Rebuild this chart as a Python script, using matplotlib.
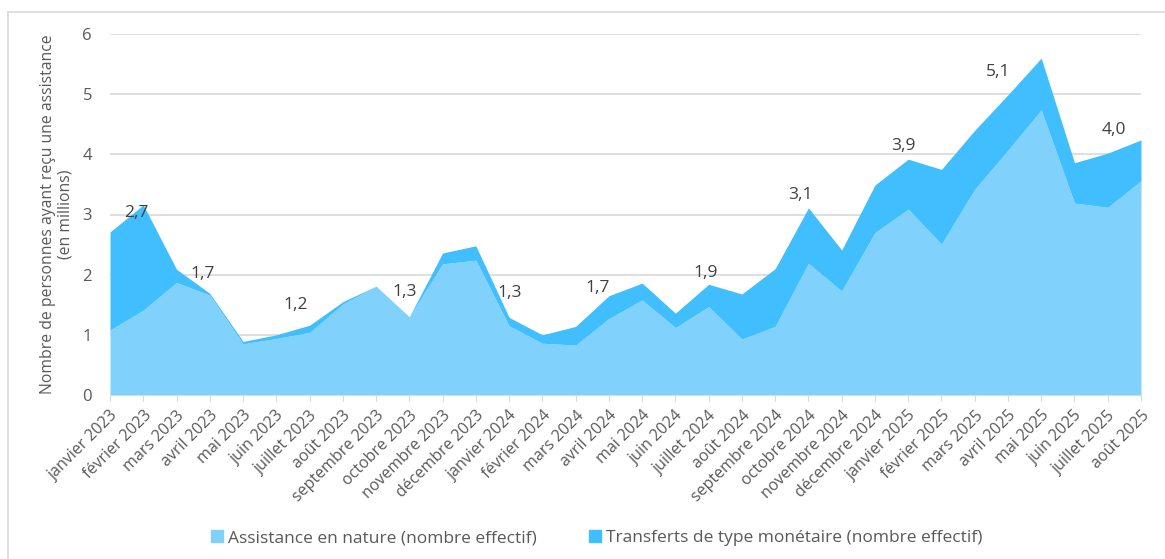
import matplotlib
matplotlib.use("Agg")
from matplotlib import pyplot as plt
from matplotlib.lines import Line2D
from matplotlib.patches import Patch

plt.rcParams['font.family'] = ['Open Sans', 'DejaVu Sans']

# months (janvier 2023 -> août 2025)
months = ["janvier 2023", "février 2023", "mars 2023", "avril 2023", "mai 2023",
          "juin 2023", "juillet 2023", "août 2023", "septembre 2023", "octobre 2023",
          "novembre 2023", "décembre 2023", "janvier 2024", "février 2024", "mars 2024",
          "avril 2024", "mai 2024", "juin 2024", "juillet 2024", "août 2024",
          "septembre 2024", "octobre 2024", "novembre 2024", "décembre 2024",
          "janvier 2025", "février 2025", "mars 2025", "avril 2025", "mai 2025",
          "juin 2025", "juillet 2025", "août 2025"]

# millions of people
nature = [1.08, 1.41, 1.87, 1.66, 0.85, 0.94, 1.04, 1.51, 1.81, 1.30,
          2.18, 2.24, 1.15, 0.86, 0.83, 1.27, 1.58, 1.12, 1.47, 0.93,
          1.14, 2.19, 1.73, 2.70, 3.09, 2.51, 3.42, 4.07, 4.74, 3.19,
          3.12, 3.56]
total = [2.71, 3.16, 2.09, 1.69, 0.89, 1.00, 1.16, 1.55, 1.81, 1.30,
         2.36, 2.48, 1.29, 1.00, 1.14, 1.65, 1.86, 1.36, 1.84, 1.68,
         2.10, 3.11, 2.41, 3.49, 3.92, 3.75, 4.40, 4.99, 5.60, 3.86,
         4.02, 4.24]

# value labels shown on the chart
label_idx = [0, 3, 6, 9, 12, 15, 18, 21, 24, 27, 31]
label_txt = ["2,7", "1,7", "1,2", "1,3", "1,3", "1,7", "1,9", "3,1", "3,9", "5,1", "4,0"]
# label offsets from the area top, in pixels
label_dx = [26, -7, -14, -5, 1, -11, -3, -8, -5, -10, -27]
label_dy = [19, 19, 20, 25, 24, 8, 11, 13, 13, 23, 10]

c_nature = "#80D2FD"
c_money = "#40BEFE"
c_text = "#595959"

fig = plt.figure(figsize=(11.65, 5.59), dpi=100)
ax = fig.add_axes([110/1165, 164/559, 1031/1165, 361/559])

x = list(range(len(months)))
ax.fill_between(x, 0, nature, color=c_nature, lw=0, zorder=2)
ax.fill_between(x, nature, total, color=c_money, lw=0, zorder=2)

for i, t, dx, dy in zip(label_idx, label_txt, label_dx, label_dy):
    ax.annotate(t, (i, total[i]), xytext=(dx, dy), textcoords="offset pixels",
                ha="center", va="center", fontsize=12.5, color="#404040", zorder=3)

ax.set_xlim(0, len(months) - 1)
ax.set_ylim(0, 6)
ax.set_yticks(range(0, 7))
ax.yaxis.grid(True, color="#D9D9D9", lw=1.2, zorder=0)
ax.set_axisbelow(True)
for s in ["top", "right", "left"]:
    ax.spines[s].set_visible(False)
ax.spines["bottom"].set_color("#D9D9D9")
ax.tick_params(axis="y", length=0, labelsize=12, labelcolor=c_text, pad=13)
ax.tick_params(axis="x", length=4, color="#D9D9D9", labelsize=11.5, labelcolor=c_text, pad=5)
ax.set_xticks(x)
ax.set_xticklabels(months, rotation=45, ha="right", rotation_mode="anchor")
ax.set_ylabel("Nombre de personnes ayant reçu une assistance\n(en millions)",
              fontsize=11.3, color=c_text, labelpad=6)

handles = [Patch(color=c_nature, label="Assistance en nature (nombre effectif)"),
           Patch(color=c_money, label="Transferts de type monétaire (nombre effectif)")]
fig.legend(handles=handles, loc="center", bbox_to_anchor=(0.5 + 14/1165, 21/559), ncol=2,
           frameon=False, fontsize=12.5, handlelength=0.7, handleheight=0.7,
           handletextpad=0.3, columnspacing=3.0, labelcolor=c_text)

# outer frame
fig.add_artist(Line2D([8/1165, 8/1165], [0, 547/559], color="#D9D9D9", lw=1.2,
                      transform=fig.transFigure))
fig.add_artist(Line2D([8/1165, 1], [547/559, 547/559], color="#D9D9D9", lw=1.2,
                      transform=fig.transFigure))

plt.savefig("out.png", dpi=100)
